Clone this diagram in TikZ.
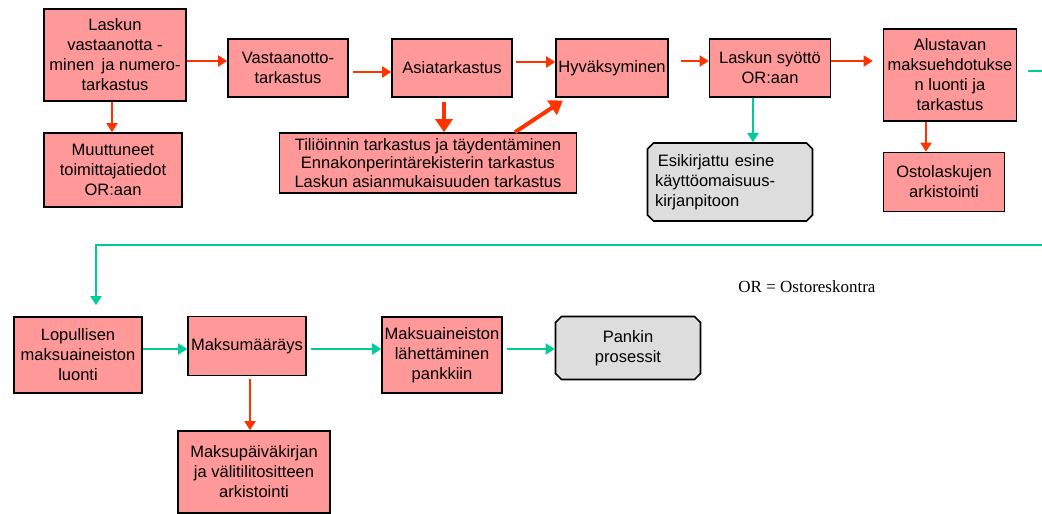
\documentclass[tikz,border=0pt]{standalone}
\usepackage{fontspec}
\setmainfont{Liberation Sans}
\newfontfamily\legendfont{Liberation Serif}
\usetikzlibrary{arrows.meta, shapes.misc}
\definecolor{boxred}{HTML}{FF9999}
\definecolor{flowred}{HTML}{FF3300}
\definecolor{flowgreen}{HTML}{00CC99}
\definecolor{endgray}{HTML}{DDDDDD}
\tikzset{>={Triangle[length=9pt,width=11pt]},
  stage/.style={draw, line width=1.6pt, fill=boxred, align=center, inner sep=0pt,
    font=\fontsize{16.5}{20}\selectfont},
  outside/.style={stage, fill=endgray, chamfered rectangle,
    chamfered rectangle xsep=3pt, chamfered rectangle ysep=3pt},
  redflow/.style={->, flowred, line width=1.8pt},
  bigflow/.style={-{Triangle[length=13pt,width=17pt]}, flowred, line width=4pt},
  greenflow/.style={->, flowgreen, line width=1.8pt}}

\begin{document}
\begin{tikzpicture}[x=1pt, y=-1pt]
\useasboundingbox (0,0) rectangle (1042,514);
\node[stage, minimum width=142pt, minimum height=92pt] (laskun) at (115,55)
  {Laskun\\vastaanotta -\\minen\, ja numero-\\tarkastus};
\node[stage, minimum width=138pt, minimum height=74pt] (muuttuneet) at (113,170)
  {Muuttuneet\\toimittajatiedot\\OR:aan};
\node[stage, minimum width=120pt, minimum height=58pt] (vastaanotto) at (288,68)
  {Vastaanotto-\\tarkastus};
\node[stage, minimum width=120pt, minimum height=58pt] (asia) at (452,68) {Asiatarkastus};
\node[stage, minimum width=297pt, minimum height=60pt, font=\fontsize{16.5}{18.5}\selectfont]
  (tili) at (428,163)
  {Tiliöinnin tarkastus ja täydentäminen\\Ennakonperintärekisterin tarkastus\\Laskun asianmukaisuuden tarkastus};
\node[stage, minimum width=112pt, minimum height=58pt] (hyv) at (612,68) {Hyväksyminen};
\node[stage, minimum width=121pt, minimum height=58pt] (syotto) at (770,68)
  {Laskun syöttö\\OR:aan};
\node[outside, minimum width=165pt, minimum height=78pt, text width=150pt, align=left]
  (esikirjattu) at (730,182)
  {\,Esikirjattu esine\\käyttöomaisuus-\\kirjanpitoon};
\node[stage, minimum width=133pt, minimum height=92pt] (alustavan) at (950,75)
  {Alustavan\\maksuehdotukse\\n luonti ja\\tarkastus};
\node[stage, minimum width=121pt, minimum height=59pt] (osto) at (944,182)
  {Ostolaskujen\\arkistointi};
\node[stage, minimum width=128pt, minimum height=76pt] (lopullisen) at (78,355)
  {Lopullisen\\maksuaineiston\\luonti};
\node[stage, minimum width=118pt, minimum height=59pt] (maksu) at (247,346) {Maksumääräys};
\node[stage, minimum width=120pt, minimum height=76pt] (lahetys) at (442,355)
  {Maksuaineiston\\lähettäminen\\pankkiin};
\node[outside, minimum width=145pt, minimum height=63pt] (pankki) at (628,348)
  {Pankin\\prosessit};
\node[stage, minimum width=152pt, minimum height=82pt] (paivak) at (254,472)
  {Maksupäiväkirjan\\ja välitilitositteen\\arkistointi};
\node[font=\legendfont\fontsize{17}{20}\selectfont] (selite) at (807,287) {OR = Ostoreskontra};
\coordinate (reunaA) at (1042,71);
\coordinate (reunaB) at (1042,245);

\draw[redflow] ([yshift=-6pt]laskun.east) -- ([yshift=-6pt]laskun.east -| vastaanotto.west);
\draw[redflow] ([xshift=-3pt]laskun.south) -- ([xshift=-3pt]laskun.south |- muuttuneet.north);
\draw[redflow, shorten <=4pt] ([yshift=-4pt]vastaanotto.east) -- ([yshift=-4pt]vastaanotto.east -| asia.west);
\draw[redflow, shorten <=3pt] ([yshift=6pt]asia.east) -- ([yshift=6pt]asia.east -| hyv.west);
\draw[bigflow, shorten <=4pt] ([xshift=-8pt]asia.south) -- ([xshift=-8pt]asia.south |- tili.north);
\draw[bigflow, shorten >=5pt] ([xshift=87pt]tili.north) -- ([xshift=-45pt]hyv.south);
\draw[redflow, shorten <=12pt] ([yshift=7pt]hyv.east) -- ([yshift=7pt]hyv.east -| syotto.west);
\draw[redflow, shorten >=10pt] ([yshift=7pt]syotto.east) -- ([yshift=7pt]syotto.east -| alustavan.west);
\draw[greenflow] ([xshift=-17pt]syotto.south) -- ([xshift=-17pt]syotto.south |- esikirjattu.north);
\draw[redflow] ([xshift=-24pt]alustavan.south) -- ([xshift=-24pt]alustavan.south |- osto.north);
\draw[flowgreen, line width=1.8pt, shorten <=11pt] (alustavan.east |- reunaA) -- (reunaA);
\draw[greenflow, shorten >=11pt] (reunaB) -| ([xshift=18pt]lopullisen.north);
\draw[greenflow] ([yshift=6pt]lopullisen.east) -- ([yshift=6pt]lopullisen.east -| maksu.west);
\draw[greenflow, shorten <=4pt] ([yshift=-3pt]maksu.east) -- ([yshift=-3pt]maksu.east -| lahetys.west);
\draw[greenflow, shorten <=4pt] ([yshift=6pt]lahetys.east) -- ([yshift=6pt]lahetys.east -| pankki.west);
\draw[redflow, shorten <=3pt] ([xshift=3pt]maksu.south) -- ([xshift=3pt]maksu.south |- paivak.north);
\end{tikzpicture}
\end{document}
